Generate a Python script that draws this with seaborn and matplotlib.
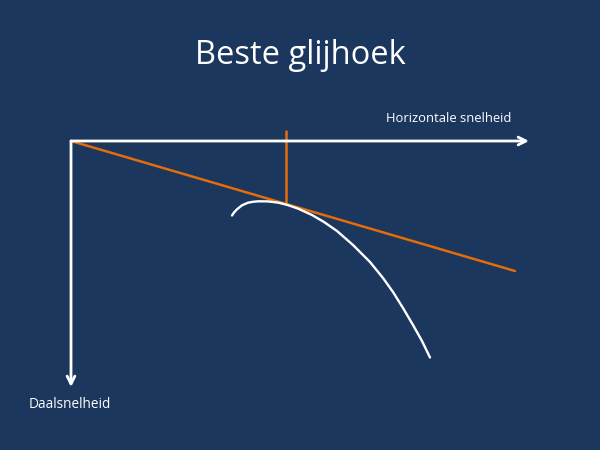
import numpy as np
import pandas as pd
import matplotlib
matplotlib.use("Agg")
import matplotlib.pyplot as plt
import seaborn as sns

# schematic polar curve, units = offset from origin (right = speed, down = sink)
curve_x = [161, 163, 166, 171, 177, 182, 187, 197, 207, 216, 227, 241, 253, 266, 282,
           299, 312, 322, 332, 342, 351, 359]
curve_y = [74.5, 71.5, 68.3, 64.3, 61.7, 60.8, 60.3, 60.4, 61.6, 63.8, 67.6, 74, 81, 90,
           104, 121, 137, 151, 167, 184, 200, 216.5]

tangent_x = [0, 444]
tangent_y = [0, 130]

touch_x = 215
touch_top = -10
touch_y = 63

axis_len_x = 458
axis_len_y = 246

title = "Beste glijhoek"
label_x = "Horizontale snelheid"
label_y = "Daalsnelheid"

bg = "#1B375E"
orange = "#E46C0A"

sns.set_theme(style="white")
plt.rcParams['font.family'] = ['Open Sans', 'DejaVu Sans']

fig = plt.figure(figsize=(6, 4.5), dpi=100, facecolor=bg)
ax = fig.add_axes([0, 0, 1, 1])
ax.set_facecolor(bg)
ax.set_xlim(-71, 529)
ax.set_ylim(309, -141)
ax.axis("off")

# axes arrows
ax.annotate("", xy=(axis_len_x, 0), xytext=(0, 0),
            arrowprops=dict(arrowstyle="->", color="white", lw=2, mutation_scale=14,
                            shrinkA=0, shrinkB=0))
ax.annotate("", xy=(0, axis_len_y), xytext=(0, 0),
            arrowprops=dict(arrowstyle="->", color="white", lw=2, mutation_scale=14,
                            shrinkA=0, shrinkB=0))

# tangent line and vertical marker
sns.lineplot(x=tangent_x, y=tangent_y, color=orange, lw=1.8, ax=ax)
ax.plot([touch_x, touch_x], [touch_top, touch_y], color=orange, lw=1.8)

# polar curve
df = pd.DataFrame({"v": curve_x, "w": curve_y})
sns.lineplot(data=df, x="v", y="w", sort=False, color="white", lw=1.7, ax=ax)

ax.text(229, -141 + 55, title, color="white", fontsize=23.5, ha="center", va="center")
ax.text(378, -141 + 119, label_x, color="white", fontsize=9.4, ha="center", va="center")
ax.text(-71 + 70, -141 + 405, label_y, color="white", fontsize=9.8, ha="center", va="center")

fig.savefig("out.png", dpi=100, facecolor=bg)
